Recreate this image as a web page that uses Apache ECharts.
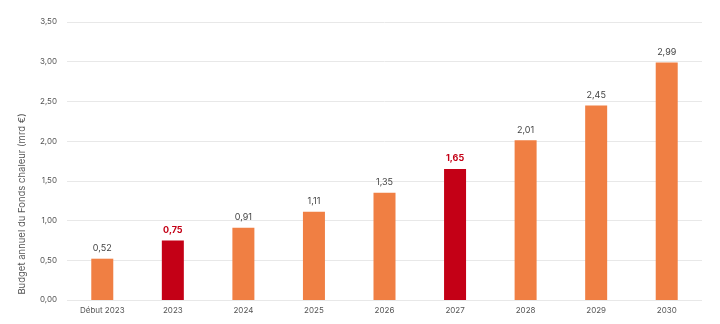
<!DOCTYPE html>
<html><head><meta charset="utf-8">
<script src="https://cdn.jsdelivr.net/npm/echarts@6/dist/echarts.min.js"></script>
<style>html,body{margin:0;padding:0;background:#fff}#c{width:720px;height:324px}</style>
</head><body><div id="c"></div>
<script>
const categories = ['Début 2023','2023','2024','2025','2026','2027','2028','2029','2030'];
const values = [0.52,0.75,0.91,1.11,1.35,1.65,2.01,2.45,2.99];
const highlighted = ['2023','2027'];
const yTicks = [0,0.5,1,1.5,2,2.5,3,3.5];
const ORANGE = '#F07F43', RED = '#C40016';
const fmt = v => v.toFixed(2).replace('.', ',');
const chart = echarts.init(document.getElementById('c'));
chart.setOption({
  animation:false,
  grid:{left:67,right:18,top:22,bottom:24},
  xAxis:{type:'category',data:categories,
    axisLine:{show:false},axisTick:{show:false},
    axisLabel:{color:'#555',fontSize:8,fontFamily:'Inter',margin:7}},
  yAxis:{type:'value',min:0,max:3.5,interval:0.5,
    name:'Budget annuel du Fonds chaleur (mrd €)',nameLocation:'middle',nameGap:40,
    nameTextStyle:{color:'#555',fontSize:9.5,fontFamily:'Inter',padding:[0,86,0,0]},
    axisLabel:{color:'#555',fontSize:8,fontFamily:'Inter',margin:10,formatter:v=>fmt(v)},
    splitLine:{lineStyle:{color:'#e8e8e8',width:1}}},
  series:[{type:'bar',barWidth:22,
    data:values.map((v,i)=>{
      const h = highlighted.includes(categories[i]);
      return {value:v,itemStyle:{color:h?RED:ORANGE},
        label:{color:h?RED:'#444',fontWeight:h?'bold':'normal'}};
    }),
    label:{show:true,position:'top',distance:6,fontSize:9,fontFamily:'Inter',formatter:p=>fmt(p.value)}
  }]
});
</script></body></html>
